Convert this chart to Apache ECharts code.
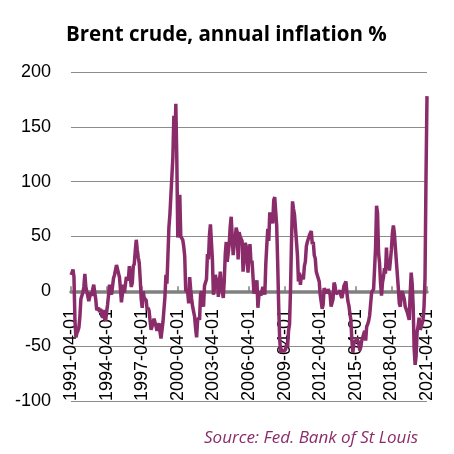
<!DOCTYPE html>
<html>
<head>
<meta charset="utf-8">
<script src="https://cdn.jsdelivr.net/npm/echarts@6/dist/echarts.min.js"></script>
<style>
  html, body { margin: 0; padding: 0; background: #fff; }
  #brentChart { width: 454px; height: 454px; }
</style>
</head>
<body>
<div id="brentChart"></div>
<script>
// Brent crude, year-on-year % change, monthly, 1991-04 .. 2021-04
const yoy1990s = [
  15, 17, 20, 13, -27, -42, -38, -36, -33,
  -23, -7, -8, -1, 4, 16, 4, 0, -1, -9, -9, -1,
  -4, 2, 6, -1, -7, -17, -18, -15, -19, -16, -21, -24,
  -17, -25, -27, -19, -12, -3, 6, -1, -3, -3, 12, 15,
  15, 24, 24, 23, 13, 2, -10, -2, 6, -1, -1, 13,
  13, 10, 23, 12, 4, 8, 23, 25, 37, 47, 38, 31,
  26, 11, -7, -15, 0, -6, -5, -8, -17, -15, -18, -27,
  -35, -32, -33, -25, -25, -32, -36, -37, -29, -37, -43, -43,
  -28, -27, -5, 15, 7, 32, 58, 70, 69, 70, 122, 160,
];
const yoy2000s = [
  130, 171, 120, 49, 82, 88, 50, 49, 47, 41, 32, 1,
  0, -1, -11, 13, 2, -7, -14, -15, -23, -34, -42, -27,
  -24, -26, -3, 0, -10, -14, 5, 4, 11, 34, 29, 51,
  61, 62, 29, -3, 2, 15, 10, 12, -5, 8, 18, 5,
  0, -6, 10, 34, 45, 27, 35, 43, 59, 68, 50, 33,
  42, 47, 58, 54, 29, 54, 50, 50, 46, 18, 28, 44,
  42, 32, 17, 35, 43, 26, 28, 14, -2, -1, 6, 10,
  -15, -4, 0, -4, -4, 4, 4, -3, 25, 42, 57, 46,
  72, 65, 67, 62, 83, 86, 73, 60, 26, -13, -43, -56,
  -53, -54, -55, -54, -53, -48, -51, -36, -30, 2, 46, 82,
];
const yoy2010s = [
  75, 70, 69, 69, 33, 9, 17, 6, 15, 14, 11, 23,
  27, 41, 45, 45, 51, 52, 55, 43, 45, 33, 30, 18,
  15, 15, 9, -3, -4, -16, -12, 3, 0, 2, -2, 2,
  2, -3, -14, -15, -7, 8, 5, -2, -1, -2, -1, 1,
  -4, -6, -1, 5, 7, 9, -1, -9, -13, -20, -26, -44,
  -56, -47, -48, -45, -42, -45, -47, -54, -51, -45, -44, -39,
  -36, -45, -32, -30, -27, -22, -21, -1, -2, 2, 1, 40,
  78, 71, 35, 26, 8, -4, 8, 13, 21, 16, 40, 21,
  27, 19, 28, 38, 53, 60, 53, 40, 40, 41, 3, -11,
  -14, -2, 0, -1, -7, -14, -14, -19, -20, -26, -2, 17,
];
const yoy2020s = [
  7, -13, -52, -67, -59, -37, -32, -24, -35, -33, -32, -26,
  -14, 12, 104, 178,
];
const yTicks = [-100, -50, 0, 50, 100, 150, 200];

const values = [...yoy1990s, ...yoy2000s, ...yoy2010s, ...yoy2020s];

// monthly category labels starting 1991-04-01
const months = [];
for (let i = 0; i < values.length; i++) {
  const m = 3 + i; // 0-based month index from Jan 1991
  const year = 1991 + Math.floor(m / 12);
  const mon = (m % 12) + 1;
  months.push(year + '-' + String(mon).padStart(2, '0') + '-01');
}

const chart = echarts.init(document.getElementById('brentChart'));
chart.setOption({
  animation: false,
  title: {
    text: 'Brent crude, annual inflation %',
    left: 61,
    top: 20,
    textStyle: {
      fontFamily: 'Open Sans',
      fontWeight: 'bold',
      fontSize: 20.5,
      color: '#000',
    },
  },
  graphic: [
    {
      type: 'text',
      right: 36,
      top: 430,
      style: {
        text: 'Source: Fed. Bank of St Louis',
        fontFamily: 'Open Sans',
        fontStyle: 'italic',
        fontSize: 17,
        fill: '#8b2c6a',
      },
    },
  ],
  grid: {
    left: 71,
    right: 27,
    top: 72,
    bottom: 53,
    containLabel: false,
    outerBoundsMode: 'none',
  },
  xAxis: [
    {
      // date labels, read upward from the bottom of the plot
      type: 'category',
      data: months,
      boundaryGap: false,
      axisLine: { show: false, onZero: false },
      axisTick: { show: false },
      axisLabel: {
        interval: 35,
        rotate: 90,
        inside: true,
        margin: 0,
        color: '#000',
        fontFamily: 'Liberation Sans',
        fontSize: 18,
      },
      splitLine: { show: false },
    },
    {
      // thick zero line with ticks
      type: 'category',
      data: months,
      boundaryGap: false,
      axisLine: {
        onZero: true,
        lineStyle: { color: '#808080', width: 3.5 },
      },
      axisTick: {
        show: true,
        interval: 35,
        length: 5,
        lineStyle: { color: '#808080', width: 1.5 },
      },
      axisLabel: { show: false },
      splitLine: { show: false },
    },
  ],
  yAxis: {
    type: 'value',
    min: yTicks[0],
    max: yTicks[yTicks.length - 1],
    interval: 50,
    axisLine: { show: false },
    axisTick: { show: false },
    axisLabel: {
      margin: 20,
      color: '#000',
      fontFamily: 'Liberation Sans',
      fontSize: 18,
    },
    splitLine: {
      lineStyle: { color: '#8c8c8c', width: 1 },
    },
  },
  series: [
    {
      type: 'line',
      data: values,
      showSymbol: false,
      lineStyle: { color: '#8b2c6a', width: 3.5 },
    },
  ],
});
</script>
</body>
</html>
